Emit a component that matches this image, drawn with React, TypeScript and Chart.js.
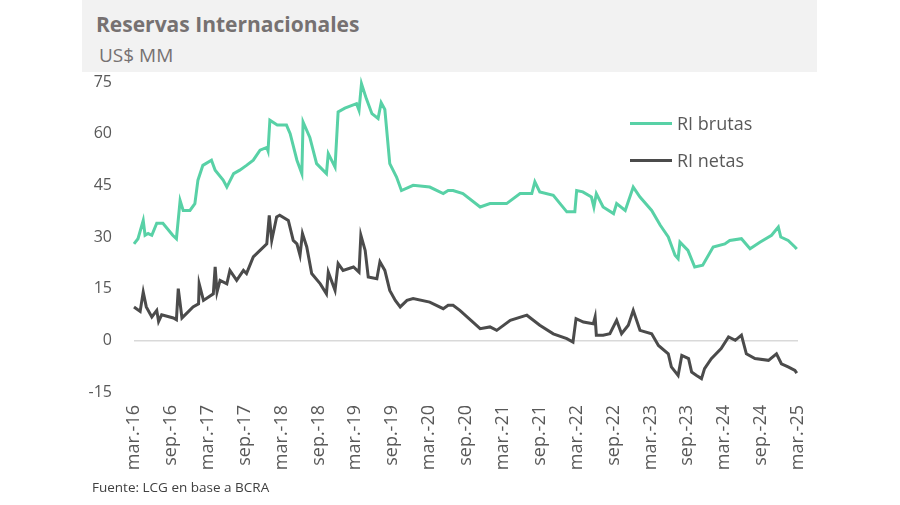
import { useEffect, useRef } from "react";
import { Chart, registerables } from "chart.js";

Chart.register(...registerables);

const tickLabels = [
  "mar.-16", "sep.-16", "mar.-17", "sep.-17", "mar.-18", "sep.-18", "mar.-19",
  "sep.-19", "mar.-20", "sep.-20", "mar.-21", "sep.-21", "mar.-22", "sep.-22",
  "mar.-23", "sep.-23", "mar.-24", "sep.-24", "mar.-25",
];

// x = months since March 2016
const brutasMonths = [
  0, 0.65, 1.5, 1.8, 2.3, 2.9, 3.7, 4.7, 6.3, 6.9, 7.5, 8.0, 9.1, 9.9, 10.4, 11.2,
  12.6, 13.2, 14.5, 15.1, 16.2, 17.2, 18.3, 19.4, 20.5, 21.6, 21.8, 22.1, 23.3,
  24.8, 25.4, 26.5, 27.3, 27.5, 28.6, 29.7, 31.3, 31.6, 32.7, 33.2, 34.3, 36.2,
  36.6, 37.0, 37.8, 38.7, 39.7, 40.2, 40.8, 41.6, 42.7, 43.5, 45.4, 48.1, 50.3,
  51.1, 51.9, 53.5, 56.3, 57.9, 60.6, 62.8, 64.7, 65.2, 66.0, 68.2, 69.3, 70.4,
  71.7, 72.0, 73.0, 74.4, 74.8, 75.2, 76.3, 78.0, 78.5, 79.9, 81.2, 82.3, 84.2,
  85.6, 86.9, 88.0, 88.5, 88.8, 90.1, 91.2, 92.5, 94.2, 96.1, 96.9, 98.8, 100.2,
  101.8, 103.7, 104.8, 105.2, 106.4, 107.5, 107.8,
];
const brutasValues = [
  28, 29.5, 34.8, 30.5, 31, 30.5, 34, 34, 30.5, 29.5, 40.6, 37.7, 37.7, 39.7, 46.5,
  50.8, 52.3, 49.4, 46.5, 44.5, 48.4, 49.4, 50.8, 52.3, 55.2, 56, 55, 63.9, 62.5,
  62.5, 60, 52.3, 48.4, 63.4, 58.9, 51.3, 48.4, 54.2, 50.3, 66.3, 67.4, 68.7, 66.8,
  74.5, 70.1, 65.8, 64.4, 69, 67, 51.3, 47.4, 43.5, 45, 44.5, 42.6, 43.5, 43.5,
  42.6, 38.7, 39.7, 39.7, 42.6, 42.6, 46, 43.1, 42.1, 39.7, 37.3, 37.3, 43.5, 43.1,
  41.6, 38.7, 42.6, 38.7, 36.8, 39.7, 37.7, 44.5, 41.6, 37.7, 33.4, 30, 24.7, 23.7,
  28.5, 26.1, 21.3, 21.8, 27.1, 28, 29, 29.5, 26.6, 28.5, 30.5, 32.9, 30, 29, 27.1,
  26.5,
];

const netasMonths = [
  0, 1.0, 1.5, 2.0, 2.9, 3.7, 4.0, 4.5, 6.4, 6.9, 7.2, 7.8, 8.6, 9.6, 10.5, 10.6,
  11.3, 12.9, 13.2, 13.5, 14.0, 15.1, 15.6, 16.7, 17.8, 18.3, 19.4, 20.5, 21.6,
  22.0, 22.4, 23.2, 23.7, 25.1, 25.9, 26.5, 27.0, 27.4, 28.1, 28.9, 30.3, 31.3,
  31.6, 32.7, 33.2, 34.0, 35.7, 36.6, 36.9, 37.6, 38.1, 39.5, 40.0, 40.8, 41.6,
  42.5, 43.3, 44.4, 45.4, 48.1, 50.3, 51.1, 51.9, 53.0, 56.3, 57.9, 59.0, 61.2,
  63.9, 66.0, 68.2, 70.4, 71.4, 71.9, 73.1, 74.7, 75.0, 75.2, 76.3, 77.4, 78.5,
  79.3, 80.4, 81.2, 82.3, 84.2, 85.3, 86.9, 87.4, 88.5, 89.1, 90.2, 90.7, 91.5,
  92.3, 92.8, 93.9, 95.5, 96.7, 97.8, 98.8, 99.6, 101.0, 103.2, 104.5, 105.3,
  106.4, 107.5, 107.8,
];
const netasValues = [
  9.7, 8.4, 14, 9.7, 6.8, 8.7, 5.5, 7.4, 6.5, 6, 15, 6.5, 7.9, 9.7, 10.6, 16.4,
  11.6, 13.5, 21.3, 14, 17.4, 16.4, 20.3, 17.4, 20.3, 19.4, 24.2, 26.1, 28, 36.3,
  29, 35.8, 36.3, 34.8, 29, 28, 24.7, 31, 27.1, 19.4, 16.4, 13.5, 19.8, 14.5, 22.3,
  20.3, 21.3, 19.8, 30.5, 26.1, 18.4, 17.9, 22.8, 20.3, 14.5, 11.6, 9.7, 11.6,
  12.1, 11.1, 9.2, 10.2, 10.2, 8.7, 3.4, 3.9, 2.9, 5.8, 7.3, 4.4, 1.9, 0.5, -0.5,
  6.3, 5.3, 4.8, 6.8, 1.5, 1.5, 1.9, 5.8, 1.9, 4.4, 8.7, 2.9, 1.9, -1.5, -3.9,
  -7.7, -10.2, -4.4, -5.3, -9.2, -10.2, -11.1, -8.2, -5.3, -2.4, 1, 0, 1.5, -3.9,
  -5.3, -5.8, -3.9, -6.8, -7.7, -8.7, -9.5,
];

const yTicks = [-15, 0, 15, 30, 45, 60, 75];

const GREEN = "#58D1A6";
const DARK = "#4B4B4B";
const TEXT = "#595959";
const FONT = "'Open Sans', 'DejaVu Sans', sans-serif";

export default function App() {
  const ref = useRef<HTMLCanvasElement | null>(null);

  useEffect(() => {
    document.body.style.margin = "0";
    const canvas = ref.current;
    if (!canvas) return;
    const chart = new Chart(canvas, {
      type: "line",
      data: {
        datasets: [
          {
            label: "RI brutas",
            data: brutasMonths.map((m, i) => ({ x: m, y: brutasValues[i] })),
            borderColor: GREEN,
            borderWidth: 3,
            pointRadius: 0,
            tension: 0,
            clip: false as any,
          },
          {
            label: "RI netas",
            data: netasMonths.map((m, i) => ({ x: m, y: netasValues[i] })),
            borderColor: DARK,
            borderWidth: 3,
            pointRadius: 0,
            tension: 0,
            clip: false as any,
          },
        ],
      },
      options: {
        responsive: false,
        animation: false,
        layout: { padding: { left: 64, right: 102, top: 82, bottom: 0 } },
        plugins: { legend: { display: false }, tooltip: { enabled: false } },
        scales: {
          x: {
            type: "linear",
            min: 0,
            max: 108,
            afterBuildTicks: (s: any) => {
              s.ticks = tickLabels.map((_, i) => ({ value: i * 6 }));
            },
            afterFit: (s: any) => {
              s.height = 113;
            },
            grid: { display: false, drawTicks: false },
            border: { display: false },
            ticks: {
              autoSkip: false,
              maxRotation: 90,
              minRotation: 90,
              padding: 13,
              color: TEXT,
              font: { family: FONT, size: 18 },
              callback: (v: any) => tickLabels[Math.round(Number(v) / 6)],
            },
          },
          y: {
            min: -15,
            max: 75,
            afterBuildTicks: (s: any) => {
              s.ticks = yTicks.map((v) => ({ value: v }));
            },
            afterFit: (s: any) => {
              s.width = 70;
            },
            grid: {
              drawTicks: false,
              lineWidth: 1.5,
              color: (ctx: any) => (ctx.tick && ctx.tick.value === 0 ? "#D9D9D9" : "rgba(0,0,0,0)"),
            },
            border: { display: false },
            ticks: {
              padding: 22,
              color: TEXT,
              font: { family: FONT, size: 16 },
            },
          },
        },
      },
    });
    return () => chart.destroy();
  }, []);

  return (
    <div style={{ position: "relative", width: 900, height: 505, background: "#fff", fontFamily: FONT }}>
      <div
        style={{
          position: "absolute",
          left: 82,
          top: 0,
          width: 735,
          height: 72,
          background: "#F2F2F2",
        }}
      />
      <div
        style={{
          position: "absolute",
          left: 96,
          top: 9,
          fontSize: 21,
          fontWeight: 700,
          color: "#767171",
          lineHeight: "30px",
          whiteSpace: "nowrap",
        }}
      >
        Reservas Internacionales
      </div>
      <div
        style={{
          position: "absolute",
          left: 99,
          top: 41,
          fontSize: 19,
          color: "#767171",
          lineHeight: "28px",
          whiteSpace: "nowrap",
        }}
      >
        US$ MM
      </div>
      <canvas ref={ref} width={900} height={505} style={{ position: "absolute", left: 0, top: 0, display: "block" }} />
      <div style={{ position: "absolute", left: 630, top: 112, display: "flex", alignItems: "center", height: 22 }}>
        <div style={{ width: 42, height: 3, background: GREEN }} />
        <span style={{ marginLeft: 5, fontSize: 18, color: TEXT, whiteSpace: "nowrap" }}>RI brutas</span>
      </div>
      <div style={{ position: "absolute", left: 630, top: 149, display: "flex", alignItems: "center", height: 22 }}>
        <div style={{ width: 42, height: 3, background: DARK }} />
        <span style={{ marginLeft: 5, fontSize: 18, color: TEXT, whiteSpace: "nowrap" }}>RI netas</span>
      </div>
      <div
        style={{
          position: "absolute",
          left: 92,
          top: 478,
          fontSize: 13.5,
          color: "#404040",
          whiteSpace: "nowrap",
          lineHeight: "18px",
        }}
      >
        Fuente: LCG en base a BCRA
      </div>
    </div>
  );
}
